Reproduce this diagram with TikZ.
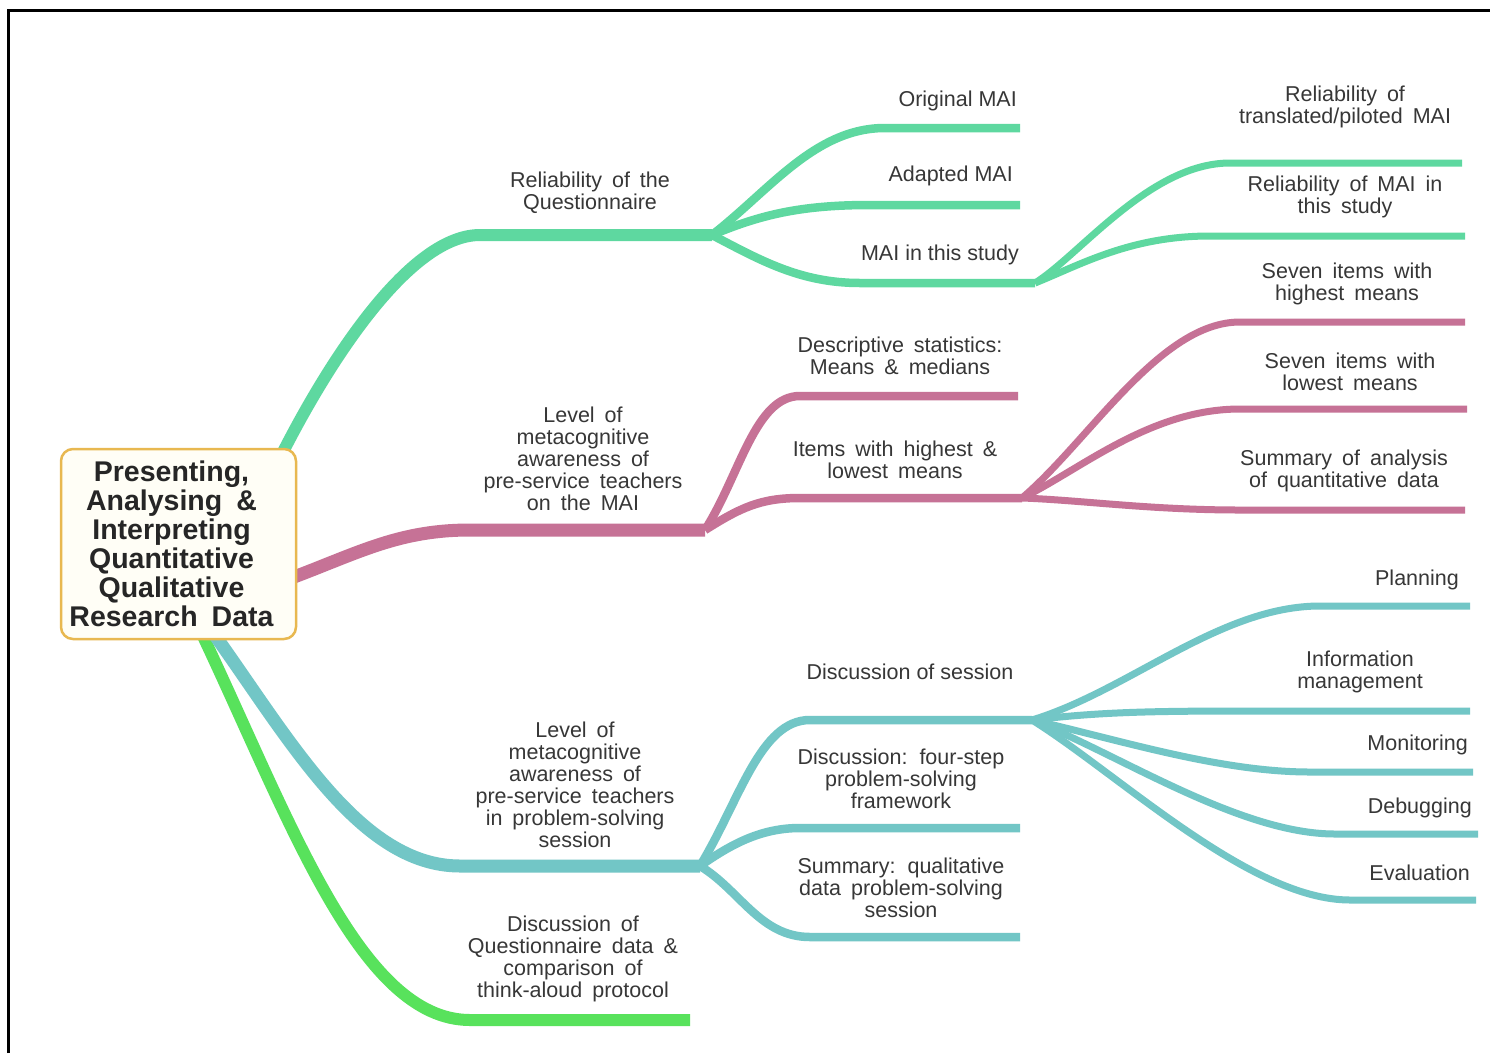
\documentclass[tikz,border=0pt]{standalone}
\usepackage{fontspec}
\setmainfont{Liberation Sans}
\definecolor{mint}{RGB}{94,216,160}
\definecolor{rose}{RGB}{198,114,150}
\definecolor{tealbr}{RGB}{114,198,198}
\definecolor{limebr}{RGB}{88,226,92}
\definecolor{ink}{RGB}{55,55,55}
\definecolor{gold}{RGB}{232,184,80}
\definecolor{cream}{RGB}{255,254,246}
\tikzset{
  lbl/.style={font=\fontsize{21.5}{22}\selectfont, text=ink, align=center, inner sep=0pt},
  trunk/.style={line width=12pt},
  limb/.style={line width=8.5pt},
  twig/.style={line width=7pt},
}
\begin{document}
\begin{tikzpicture}[x=1pt,y=-1pt]
\useasboundingbox (0,0) rectangle (1490,1053);
\fill[white] (0,0) rectangle (1490,1053);
% frame
\draw[line width=3pt] (8,1053) -- (8,10) -- (1490,10);

% branch points
\coordinate (gA) at (283,452);
\coordinate (gF) at (712,235);
\coordinate (gO) at (1020,128);
\coordinate (gAd) at (1020,205);
\coordinate (gS) at (1035,283);
\coordinate (gT) at (1462,163);
\coordinate (gR) at (1465,236);

\coordinate (pA) at (294,577);
\coordinate (pF) at (705,530);
\coordinate (pD) at (1018,396);
\coordinate (pI) at (1022,498);
\coordinate (pH) at (1465,322);
\coordinate (pL) at (1467,409);
\coordinate (pS) at (1465,510);

\coordinate (tA) at (214,634);
\coordinate (tF) at (700,866);
\coordinate (tD) at (1032,720);
\coordinate (tW) at (1020,828);
\coordinate (tQ) at (1020,937);
\coordinate (tP) at (1470,606);
\coordinate (tM) at (1470,711);
\coordinate (tO) at (1473,772);
\coordinate (tB) at (1478,834);
\coordinate (tE) at (1476,900);

\coordinate (lA) at (202,634);
\coordinate (lE) at (690,1020);

% mint branch: reliability
\draw[mint, trunk] (gA) .. controls (330,360) and (410,235) .. (480,235) -- (gF);
\draw[mint, limb] (gF) .. controls (770,190) and (815,128) .. (885,128) -- (gO);
\draw[mint, limb] (gF) .. controls (760,215) and (800,205) .. (870,205) -- (gAd);
\draw[mint, limb] (gF) .. controls (760,260) and (800,283) .. (860,283) -- (gS);
\draw[mint, twig] (gS) .. controls (1080,255) and (1150,163) .. (1230,163) -- (gT);
\draw[mint, twig] (gS) .. controls (1080,265) and (1130,236) .. (1210,236) -- (gR);

% rose branch: MAI level
\draw[rose, line width=13pt] (pA) .. controls (360,552) and (400,530) .. (470,530) -- (pF);
\draw[rose, limb] (pF) .. controls (740,475) and (755,396) .. (800,396) -- (pD);
\draw[rose, limb] (pF) .. controls (740,508) and (760,498) .. (800,498) -- (pI);
\draw[rose, twig] (pI) .. controls (1090,440) and (1160,322) .. (1240,322) -- (pH);
\draw[rose, twig] (pI) .. controls (1080,470) and (1150,409) .. (1240,409) -- (pL);
\draw[rose, twig] (pI) .. controls (1080,500) and (1150,510) .. (1240,510) -- (pS);

% lime branch: discussion
\draw[limebr, trunk] (lA) .. controls (290,820) and (360,1020) .. (470,1020) -- (lE);

% teal branch: problem-solving session
\draw[tealbr, line width=13pt] (tA) .. controls (290,740) and (360,866) .. (460,866) -- (tF);
\draw[tealbr, limb] (tF) .. controls (740,800) and (760,720) .. (810,720) -- (tD);
\draw[tealbr, limb] (tF) .. controls (730,845) and (760,828) .. (800,828) -- (tW);
\draw[tealbr, limb] (tF) .. controls (740,890) and (760,937) .. (810,937) -- (tQ);
\draw[tealbr, twig] (tD) .. controls (1130,690) and (1220,606) .. (1320,606) -- (tP);
\draw[tealbr, twig] (tD) .. controls (1100,712) and (1150,711) .. (1250,711) -- (tM);
\draw[tealbr, twig] (tD) .. controls (1120,740) and (1220,772) .. (1310,772) -- (tO);
\draw[tealbr, twig] (tD) .. controls (1120,755) and (1240,834) .. (1335,834) -- (tB);
\draw[tealbr, twig] (tD) .. controls (1120,775) and (1250,900) .. (1350,900) -- (tE);

% central topic, with wide word spacing
\begin{scope}
\spaceskip=14pt plus 2pt minus 1pt\relax
\node[draw=gold, line width=2.5pt, fill=cream, rounded corners=12pt,
      minimum width=235pt, minimum height=190pt, inner sep=0pt, align=center,
      font=\bfseries\fontsize{28.5}{29}\selectfont, text=black!85]
  (root) at (178.5,544) {Presenting,\\Analysing \&\\Interpreting\\Quantitative\\Qualitative\\Research Data};
\end{scope}

% labels set with generous word spacing
\begin{scope}
\spaceskip=10pt plus 2pt minus 1pt\relax
\node[lbl] (nRel) at (595,193) {Reliability of the\\Questionnaire};
\node[lbl] (nTrans) at (1350,107) {Reliability of\\translated/piloted MAI};
\node[lbl] (nRelS) at (1350,197) {Reliability of MAI in\\this study};

\node[lbl] (nLvl1) at (588,459) {Level of\\metacognitive\\awareness of\\pre-service teachers\\on the MAI};
\node[lbl] (nDesc) at (905,356) {Descriptive statistics:\\Means \& medians};
\node[lbl] (nItems) at (900,460) {Items with highest \&\\lowest means};
\node[lbl] (nHigh) at (1352,284) {Seven items with\\highest means};
\node[lbl] (nLow) at (1355,372) {Seven items with\\lowest means};
\node[lbl] (nSumQ) at (1349,471) {Summary of analysis\\of quantitative data};

\node[lbl] (nLvl2) at (580,785) {Level of\\metacognitive\\awareness of\\pre-service teachers\\in problem-solving\\session};
\node[lbl] (nFour) at (906,779) {Discussion: four-step\\problem-solving\\framework};
\node[lbl] (nSumL) at (906,888) {Summary: qualitative\\data problem-solving\\session};

\node[lbl] (nDisc) at (578,959) {Discussion of\\Questionnaire data \&\\comparison of\\think-aloud protocol};
\end{scope}

% labels with ordinary word spacing
\node[lbl, anchor=east] (nOrig) at (1017,101) {Original MAI};
\node[lbl, anchor=east] (nAdap) at (1013,176) {Adapted MAI};
\node[lbl, anchor=east] (nStudy) at (1019,255) {MAI in this study};
\node[lbl] (nSess) at (910,672) {Discussion of session};
\node[lbl, anchor=east] (nPlan) at (1459,580) {Planning};
\node[lbl] (nInfo) at (1360,672) {Information\\management};
\node[lbl, anchor=east] (nMon) at (1468,745) {Monitoring};
\node[lbl, anchor=east] (nDeb) at (1472,808) {Debugging};
\node[lbl, anchor=east] (nEval) at (1470,873) {Evaluation};
\end{tikzpicture}
\end{document}
